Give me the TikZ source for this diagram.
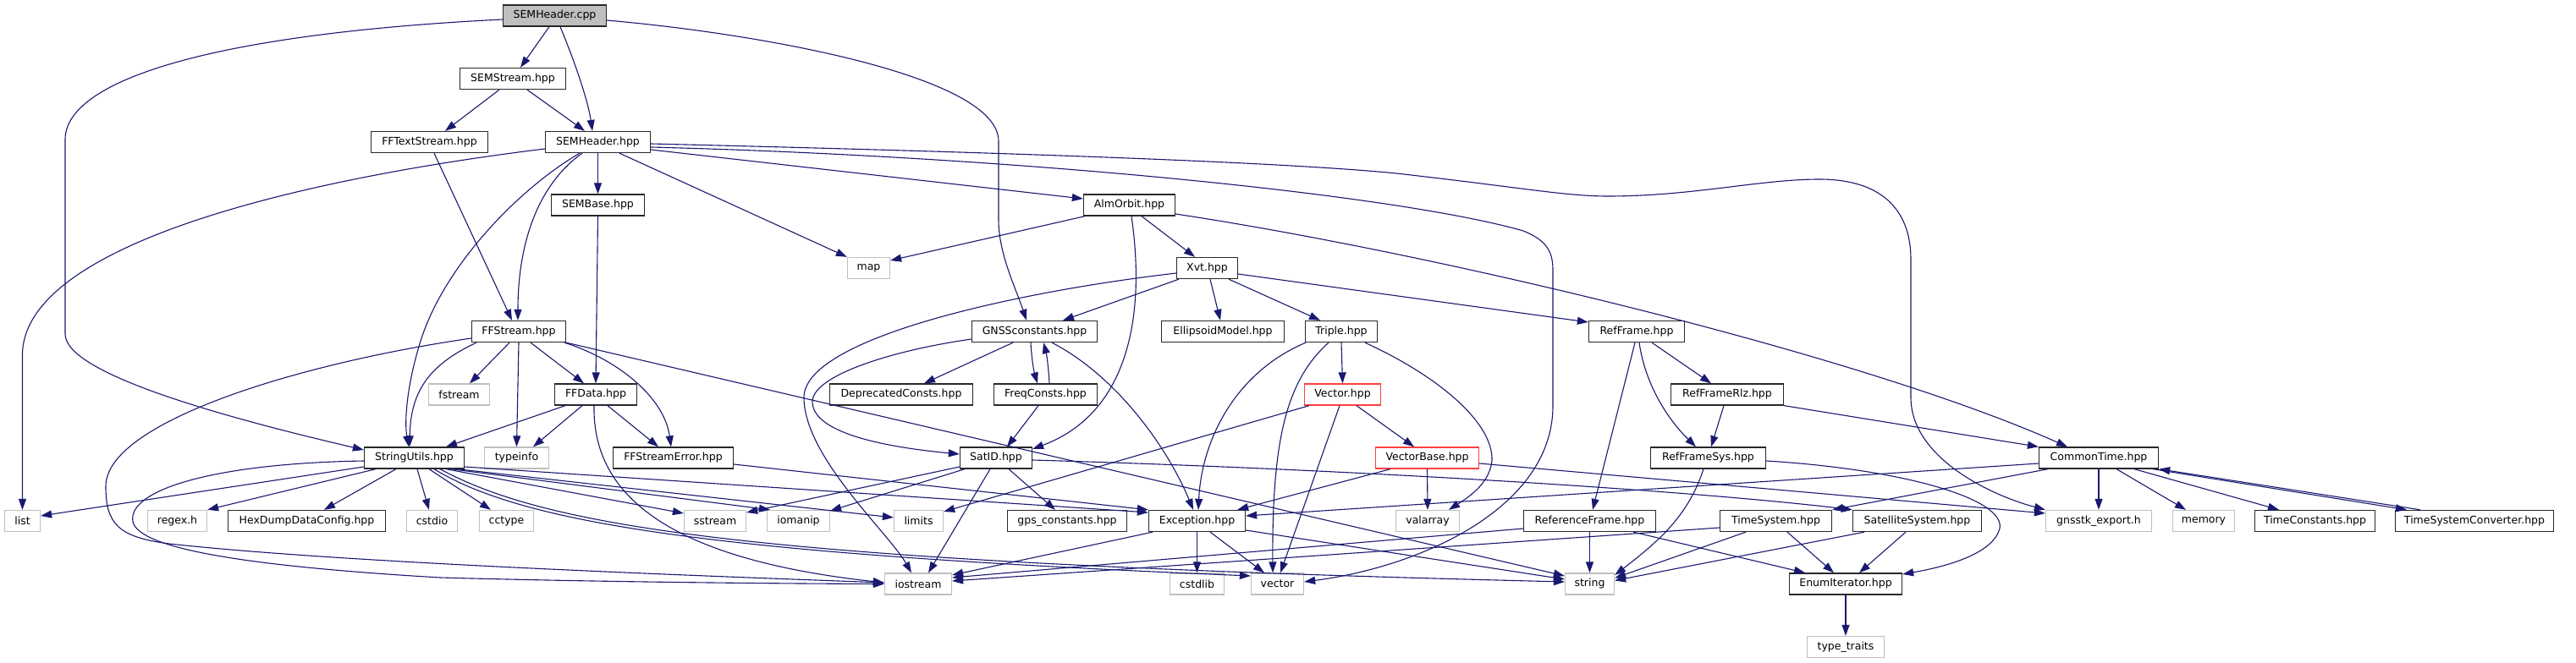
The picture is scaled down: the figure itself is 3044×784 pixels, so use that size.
\documentclass[tikz,border=0pt]{standalone}
\usepackage{fontspec}
\setmainfont{DejaVu Sans}
\usetikzlibrary{arrows.meta,calc}
\definecolor{edgec}{RGB}{25,25,112}
\definecolor{grayb}{RGB}{191,191,191}
\definecolor{redb}{RGB}{255,64,64}
\definecolor{boxb}{RGB}{40,40,40}
\tikzset{
  nbox/.style={draw=boxb, line width=1.3pt, minimum height=25pt, inner xsep=1pt, inner ysep=0pt, fill=white, text=black, font=\fontsize{12.5}{15}\selectfont},
  nsys/.style={nbox, draw=grayb},
  nred/.style={nbox, draw=redb},
  nroot/.style={nbox, fill=grayb},
  inc/.style={draw=edgec, line width=1.1pt, -{Triangle[length=13pt,width=9pt]}}
}
\begin{document}
\begin{tikzpicture}[x=1pt,y=-1pt]
\useasboundingbox (0,0) rectangle (3044,784);
\fill[white] (0,0) rectangle (3044,784);
% row 1-5
\node[nroot, minimum width=122] (cpp) at (655.5,18.5) {SEMHeader.cpp};
\node[nbox, minimum width=125] (sst) at (606,93) {SEMStream.hpp};
\node[nbox, minimum width=138] (fft) at (507.5,168) {FFTextStream.hpp};
\node[nbox, minimum width=124] (semh) at (706.5,168) {SEMHeader.hpp};
\node[nbox, minimum width=110] (semb) at (706.5,242.5) {SEMBase.hpp};
\node[nbox, minimum width=108] (alm) at (1334.5,242.5) {AlmOrbit.hpp};
\node[nsys, minimum width=50] (map) at (1026.5,317) {map};
\node[nbox, minimum width=72] (xvt) at (1426.5,317) {Xvt.hpp};
% row 6
\node[nbox, minimum width=111] (ffs) at (613,392) {FFStream.hpp};
\node[nbox, minimum width=148] (gnss) at (1222.5,392) {GNSSconstants.hpp};
\node[nbox, minimum width=145] (ell) at (1445,392) {EllipsoidModel.hpp};
\node[nbox, minimum width=85] (tri) at (1585,392) {Triple.hpp};
\node[nbox, minimum width=113] (rf) at (1934,392) {RefFrame.hpp};
% row 7
\node[nsys, minimum width=72] (fstream) at (542.5,466.5) {fstream};
\node[nbox, minimum width=97] (ffd) at (704,466.5) {FFData.hpp};
\node[nbox, minimum width=169] (dep) at (1065,466.5) {DeprecatedConsts.hpp};
\node[nbox, minimum width=122] (freq) at (1235.5,466.5) {FreqConsts.hpp};
\node[nred, minimum width=90] (vec) at (1586.5,466.5) {Vector.hpp};
\node[nbox, minimum width=133] (rlz) at (2041,466.5) {RefFrameRlz.hpp};
% row 8
\node[nbox, minimum width=118] (su) at (489.5,541.5) {StringUtils.hpp};
\node[nsys, minimum width=76] (typeinfo) at (610.5,541.5) {typeinfo};
\node[nbox, minimum width=142] (ffse) at (795.5,541.5) {FFStreamError.hpp};
\node[nbox, minimum width=85] (satid) at (1177,541.5) {SatID.hpp};
\node[nred, minimum width=122] (vb) at (1686.5,541.5) {VectorBase.hpp};
\node[nbox, minimum width=136] (rfs) at (2018.5,541.5) {RefFrameSys.hpp};
\node[nbox, minimum width=141] (ct) at (2480,541.5) {CommonTime.hpp};
% row 9
\node[nsys, minimum width=42] (list) at (26.5,616) {list};
\node[nsys, minimum width=70] (regex) at (209.5,616) {regex.h};
\node[nbox, minimum width=186] (hex) at (362.5,616) {HexDumpDataConfig.hpp};
\node[nsys, minimum width=60] (cstdio) at (510.5,616) {cstdio};
\node[nsys, minimum width=64] (cctype) at (598.5,616) {cctype};
\node[nsys, minimum width=73] (sstream) at (845,616) {sstream};
\node[nsys, minimum width=74] (iomanip) at (943.5,616) {iomanip};
\node[nsys, minimum width=58] (limits) at (1085.5,616) {limits};
\node[nbox, minimum width=141] (gpsc) at (1261,616) {gps\_constants.hpp};
\node[nbox, minimum width=114] (exc) at (1414.5,616) {Exception.hpp};
\node[nsys, minimum width=75] (valarray) at (1687,616) {valarray};
\node[nbox, minimum width=156] (reff) at (1878.5,616) {ReferenceFrame.hpp};
\node[nbox, minimum width=132] (ts) at (2098.5,616) {TimeSystem.hpp};
\node[nbox, minimum width=152] (ss) at (2265.5,616) {SatelliteSystem.hpp};
\node[nsys, minimum width=125] (gexp) at (2480,616) {gnsstk\_export.h};
\node[nsys, minimum width=73] (memory) at (2604,616) {memory};
\node[nbox, minimum width=142] (tc) at (2735.5,616) {TimeConstants.hpp};
\node[nbox, minimum width=187] (tsc) at (2924,616) {TimeSystemConverter.hpp};
% row 10-11
\node[nsys, minimum width=79] (iostream) at (1085,690.5) {iostream};
\node[nsys, minimum width=64] (cstdlib) at (1414.5,690.5) {cstdlib};
\node[nsys, minimum width=62] (vector) at (1509.5,690.5) {vector};
\node[nsys, minimum width=58] (string) at (1878.5,690.5) {string};
\node[nbox, minimum width=133] (enum) at (2181,690.5) {EnumIterator.hpp};
\node[nsys, minimum width=91] (tt) at (2181,765) {type\_traits};

% SEMHeader.cpp
\draw[inc] ($(cpp.south)+(-6.5,0)$) -- ($(sst.north)+(9,0)$);
\draw[inc] ($(cpp.south)+(6.5,0)$) .. controls (680,75) and (695,120) .. ($(semh.north)+(-6.5,0)$);
\draw[inc] ($(cpp.west)+(0,4.5)$) .. controls (250,40) and (77,95) .. (77,165) -- (77,395) .. controls (77,440) and (250,490) .. ($(su.west)+(0,-9.5)$);
\draw[inc] ($(cpp.east)+(0,5.5)$) .. controls (900,40) and (1180,90) .. (1180,167) -- (1180,260) .. controls (1180,300) and (1200,340) .. ($(gnss.north)+(-9.5,0)$);
% SEMStream / FFTextStream
\draw[inc] ($(sst.south)+(-16,0)$) -- ($(fft.north)+(18.5,0)$);
\draw[inc] ($(sst.south)+(17,0)$) -- ($(semh.north)+(-15.5,0)$);
\draw[inc] ($(fft.south)+(5.5,0)$) -- ($(ffs.north)+(-8,0)$);
% SEMHeader.hpp
\draw[inc] ($(semh.west)+(0,8)$) .. controls (350,212) and (26.5,290) .. (26.5,420) -- (list.north);
\draw[inc] (semh.south) -- (semb.north);
\draw[inc] ($(semh.south)+(-18.5,0)$) .. controls (640,215) and (612,280) .. ($(ffs.north)+(-1,0)$);
\draw[inc] ($(semh.south)+(-21.5,0)$) .. controls (610,225) and (520,320) .. (495,410) .. controls (480,460) and (478,500) .. ($(su.north)+(-6.5,0)$);
\draw[inc] ($(semh.south)+(25.5,0)$) -- (map.north west);
\draw[inc] ($(semh.east)+(0,9)$) -- ($(alm.west)+(0,-7.5)$);
\draw[inc] ($(semh.east)+(0,2)$) .. controls (1100,178) and (1500,190) .. (1650,205) .. controls (1800,222) and (1850,232) .. (1900,232) .. controls (2000,232) and (2080,212) .. (2150,212) .. controls (2220,212) and (2258,245) .. (2258,307) -- (2258,470) .. controls (2258,540) and (2350,585) .. (gexp.north west);
\draw[inc] ($(semh.east)+(0,6)$) .. controls (1200,185) and (1650,230) .. (1800,273) .. controls (1830,285) and (1835,300) .. (1835,320) -- (1835,480) .. controls (1835,600) and (1680,670) .. ($(vector.east)+(0,-2.5)$);
% FFStream
\draw[inc] ($(ffs.south)+(-11,0)$) -- ($(fstream.north)+(12.5,0)$);
\draw[inc] (ffs.south) -- (typeinfo.north);
\draw[inc] ($(ffs.south)+(14,0)$) -- ($(ffd.north)+(-14,0)$);
\draw[inc] ($(ffs.south)+(54,0)$) .. controls (730,425) and (785,470) .. ($(ffse.north)+(-2.5,0)$);
\draw[inc] ($(ffs.south)+(-50,0)$) .. controls (510,430) and (485,460) .. ($(su.north)+(-5.5,0)$);
\draw[inc] ($(ffs.west)+(0,8)$) .. controls (350,430) and (125,500) .. (125,575) .. controls (125,620) and (140,635) .. (200,643) .. controls (400,665) and (800,680) .. ($(iostream.west)+(0,-1.5)$);
\draw[inc] (ffs.south east) -- ($(string.west)+(0,-9.5)$);
% SEMBase
\draw[inc] (semb.south) -- (ffd.north);
% AlmOrbit
\draw[inc] ($(alm.south)+(-52.5,0)$) -- ($(map.east)+(0,-9)$);
\draw[inc] ($(alm.south)+(14.5,0)$) -- ($(xvt.north)+(-14.5,0)$);
\draw[inc] ($(alm.south)+(2.5,0)$) .. controls (1355,380) and (1330,490) .. ($(satid.east)+(0,-10.5)$);
\draw[inc] ($(alm.east)+(0,10.5)$) .. controls (1700,300) and (2200,420) .. ($(ct.north)+(-37,0)$);
% Xvt
\draw[inc] ($(xvt.south)+(-33.5,0)$) -- ($(gnss.north)+(33.5,0)$);
\draw[inc] ($(xvt.south)+(3.5,0)$) -- ($(ell.north)+(-3,0)$);
\draw[inc] ($(xvt.south)+(25.5,0)$) -- ($(tri.north)+(-25,0)$);
\draw[inc] ($(xvt.east)+(0,7)$) -- ($(rf.west)+(0,-11)$);
\draw[inc] ($(xvt.west)+(0,6)$) .. controls (1200,345) and (950,400) .. (950,470) .. controls (950,540) and (1050,630) .. ($(iostream.north)+(-8,0)$);
% GNSSconstants / FreqConsts
\draw[inc] ($(gnss.south)+(-25.5,0)$) -- ($(dep.north)+(27,0)$);
\draw[inc] ($(gnss.south)+(-4.5,0)$) .. controls (1219,425) and (1222,440) .. ($(freq.north)+(-9.5,0)$);
\draw[inc] ($(freq.north)+(4.5,0)$) .. controls (1239,435) and (1237,420) .. ($(gnss.south)+(10.5,0)$);
\draw[inc] ($(gnss.south)+(20.5,0)$) .. controls (1320,445) and (1380,530) .. ($(exc.north)+(-4.5,0)$);
\draw[inc] ($(gnss.west)+(0,9)$) .. controls (1050,415) and (960,445) .. (960,475) .. controls (960,515) and (1060,530) .. ($(satid.west)+(0,-4.5)$);
\draw[inc] ($(freq.south)+(-8.5,0)$) -- ($(satid.north)+(13,0)$);
% Triple
\draw[inc] (tri.south) -- (vec.north);
\draw[inc] ($(tri.south)+(-42,0)$) .. controls (1460,440) and (1420,520) .. ($(exc.north)+(1.5,0)$);
\draw[inc] ($(tri.south)+(-15,0)$) .. controls (1520,450) and (1503,520) .. ($(vector.north)+(-5.5,0)$);
\draw[inc] ($(tri.south)+(28,0)$) .. controls (1700,445) and (1765,500) .. (1763,545) .. controls (1760,570) and (1740,585) .. ($(valarray.north)+(25,0)$);
% Vector / VectorBase
\draw[inc] ($(vec.south)+(16.5,0)$) -- ($(vb.north)+(-15.5,0)$);
\draw[inc] ($(vec.south)+(-3.5,0)$) -- ($(vector.north)+(3.5,0)$);
\draw[inc] ($(vec.south)+(-39.5,0)$) -- ($(limits.east)+(0,-11)$);
\draw[inc] (vb.south) -- (valarray.north);
\draw[inc] ($(vb.south)+(-43.5,0)$) -- ($(exc.north east)+(-10,0)$);
\draw[inc] ($(vb.east)+(0,6.5)$) -- ($(gexp.west)+(0,-9)$);
% RefFrame family
\draw[inc] ($(rf.south)+(18,0)$) -- ($(rlz.north)+(-19,0)$);
\draw[inc] ($(rf.south)+(3,0)$) .. controls (1945,460) and (1975,500) .. ($(rfs.north)+(-14.5,0)$);
\draw[inc] ($(rf.south)+(-2,0)$) -- ($(reff.north)+(3.5,0)$);
\draw[inc] ($(rlz.south)+(-4,0)$) -- ($(rfs.north)+(3.5,0)$);
\draw[inc] (rlz.south east) -- (ct.north west);
\draw[inc] ($(rfs.south)+(-5.5,0)$) .. controls (1995,610) and (1960,640) .. ($(string.east)+(0,-10.5)$);
\draw[inc] ($(rfs.east)+(0,3.5)$) .. controls (2250,555) and (2370,590) .. (2363,625) .. controls (2355,655) and (2300,670) .. ($(enum.east)+(0,-11.5)$);
\draw[inc] (reff.south) -- (string.north);
\draw[inc] ($(reff.west)+(0,9)$) -- ($(iostream.east)+(0,-7.5)$);
\draw[inc] ($(reff.south)+(51.5,0)$) -- ($(enum.north)+(-48,0)$);
% CommonTime
\draw[inc] ($(ct.west)+(0,6.5)$) -- ($(exc.east)+(0,-6)$);
\draw[inc] ($(ct.south)+(-60,0)$) -- (ts.north east);
\draw[inc] (ct.south) -- (gexp.north);
\draw[inc] ($(ct.south)+(21,0)$) -- ($(memory.north)+(-21,0)$);
\draw[inc] ($(ct.south)+(42,0)$) -- ($(tc.north)+(-42.5,0)$);
\draw[inc] ($(ct.south)+(64,0)$) -- ($(tsc.north)+(-80,0)$);
\draw[inc] ($(tsc.north)+(-64,0)$) -- (ct.south east);
% TimeSystem / SatelliteSystem / EnumIterator
\draw[inc] ($(ts.west)+(0,8)$) -- ($(iostream.east)+(0,-3.5)$);
\draw[inc] ($(ts.south)+(-35.5,0)$) -- ($(string.east)+(0,-7)$);
\draw[inc] ($(ts.south)+(13.5,0)$) -- ($(enum.north)+(-14,0)$);
\draw[inc] ($(ss.south)+(-62.5,0)$) -- ($(string.east)+(0,-4)$);
\draw[inc] ($(ss.south)+(-13.5,0)$) -- ($(enum.north)+(16,0)$);
\draw[inc] (enum.south) -- (tt.north);
% SatID
\draw[inc] ($(satid.east)+(0,2.5)$) .. controls (1600,555) and (2000,580) .. (ss.north west);
\draw[inc] ($(satid.south)+(-7,0)$) -- ($(iostream.north)+(12,0)$);
\draw[inc] ($(satid.south)+(15,0)$) -- ($(gpsc.north)+(-14,0)$);
\draw[inc] ($(satid.west)+(0,10.5)$) -- ($(sstream.east)+(0,-10)$);
\draw[inc] ($(satid.south)+(-37,0)$) -- ($(iomanip.east)+(0,-12)$);
% Exception
\draw[inc] ($(exc.south)+(-52.5,0)$) -- ($(iostream.east)+(0,-10.5)$);
\draw[inc] (exc.south) -- (cstdlib.north);
\draw[inc] ($(exc.south)+(15.5,0)$) -- ($(vector.north)+(-15.5,0)$);
\draw[inc] ($(exc.east)+(0,11)$) -- ($(string.west)+(0,-5.5)$);
% StringUtils
\draw[inc] ($(su.west)+(0,10.5)$) -- ($(list.east)+(0,-6)$);
\draw[inc] ($(su.south)+(-45.5,0)$) -- (regex.north east);
\draw[inc] ($(su.south)+(-21.5,0)$) -- ($(hex.north)+(20.5,0)$);
\draw[inc] ($(su.south)+(3.5,0)$) -- ($(cstdio.north)+(-3.5,0)$);
\draw[inc] ($(su.south)+(17.5,0)$) -- ($(cctype.north)+(-18.5,0)$);
\draw[inc] ($(su.south)+(37.5,0)$) -- ($(sstream.west)+(0,-9)$);
\draw[inc] ($(su.south)+(43.5,0)$) -- ($(iomanip.north)+(-33.5,0)$);
\draw[inc] ($(su.south)+(50.5,0)$) -- ($(limits.west)+(0,-4)$);
\draw[inc] ($(su.east)+(0,10.5)$) -- ($(exc.west)+(0,-10)$);
\draw[inc] ($(su.south)+(23.5,0)$) .. controls (620,620) and (850,655) .. ($(vector.west)+(0,-9.5)$);
\draw[inc] ($(su.south)+(30.5,0)$) .. controls (650,625) and (900,665) .. ($(string.west)+(0,-2.5)$);
\draw[inc] ($(su.west)+(0,3.5)$) .. controls (250,548) and (150,580) .. (157,617) .. controls (165,650) and (300,670) .. (520,683) .. controls (700,688) and (900,690) .. (iostream.west);
% FFStreamError
\draw[inc] ($(ffse.east)+(0,7.5)$) -- (exc.north west);
% FFData
\draw[inc] ($(ffd.south)+(-36,0)$) -- ($(su.north)+(37.5,0)$);
\draw[inc] ($(ffd.south)+(-16,0)$) -- ($(typeinfo.north)+(19.5,0)$);
\draw[inc] ($(ffd.south)+(14,0)$) -- ($(ffse.north)+(-17.5,0)$);
\draw[inc] ($(ffd.south)+(-2,0)$) .. controls (700,580) and (780,660) .. ($(iostream.west)+(0,-1.5)$);
\end{tikzpicture}
\end{document}
